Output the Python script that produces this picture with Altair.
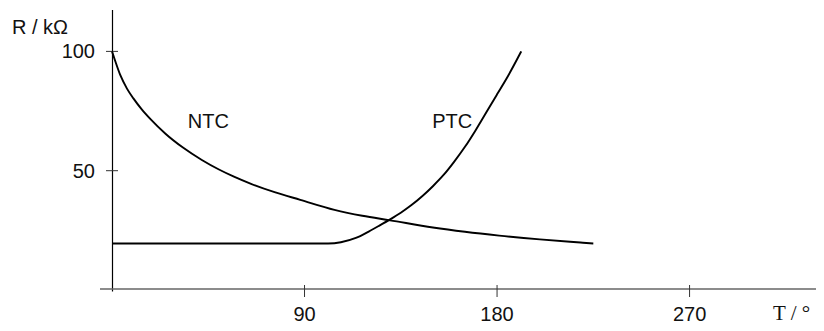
import altair as alt
import pandas as pd

# NTC curve (T in degrees, R in kOhm)
ntc_T = [0, 1.5, 4, 7, 10, 14, 18, 25, 33, 42, 50, 57, 65, 76, 88, 104, 117, 130, 150, 165, 181, 200, 219, 225]
ntc_R = [100, 96, 89.8, 84.4, 80.3, 75.6, 71.6, 65.5, 59.8, 54.5, 50.5, 47.5, 44.5, 41, 37.8, 33.6, 31.1, 29.2, 26.2, 24.4, 22.8, 21.2, 19.9, 19.5]

# PTC curve
ptc_T = [0, 50, 101, 107, 114, 120, 125, 130, 135, 140, 145, 150, 155, 160, 165, 170, 175, 180, 185, 191.3]
ptc_R = [19.5, 19.5, 19.5, 20.0, 21.8, 24.5, 27.0, 29.6, 32.4, 35.6, 39.3, 43.5, 48.2, 53.8, 60.0, 67.0, 74.5, 82.0, 89.5, 100]

y_ticks = [50, 100]
x_ticks = [90, 180, 270]

curve_labels = ["NTC", "PTC"]
label_T = [45, 159]
label_R = [70.6, 70.6]

W, H = 704, 280
x_scale = alt.Scale(domain=[0, 329.1], nice=False, zero=False)
y_scale = alt.Scale(domain=[0, 117.35], nice=False, zero=False)

curves_df = pd.concat([
    pd.DataFrame({"T": ntc_T, "R": ntc_R, "series": "NTC"}),
    pd.DataFrame({"T": ptc_T, "R": ptc_R, "series": "PTC"}),
])
yt_df = pd.DataFrame({"v": y_ticks, "lab": [str(v) for v in y_ticks]})
xt_df = pd.DataFrame({"v": x_ticks, "lab": [str(v) for v in x_ticks]})
lab_df = pd.DataFrame({"T": label_T, "R": label_R, "lab": curve_labels})

one = pd.DataFrame({"a": [0]})

curves = alt.Chart(curves_df).mark_line(
    color="black", strokeWidth=1.9, interpolate="monotone"
).encode(
    x=alt.X("T:Q", scale=x_scale, axis=None),
    y=alt.Y("R:Q", scale=y_scale, axis=None),
    detail="series:N",
)

y_axis_line = alt.Chart(one).mark_rule(color="black", strokeWidth=1.2).encode(
    x=alt.value(0.5), y=alt.value(0), y2=alt.value(281.5)
)
x_axis_line = alt.Chart(one).mark_rule(color="#666666", strokeWidth=1.6).encode(
    x=alt.value(-12), x2=alt.value(W), y=alt.value(279)
)

y_tick_marks = alt.Chart(yt_df).mark_rule(color="#333333", strokeWidth=1).encode(
    y=alt.Y("v:Q", scale=y_scale, axis=None), x=alt.value(-6), x2=alt.value(6)
)
y_tick_labels = alt.Chart(yt_df).mark_text(
    font="Liberation Sans", fontSize=20, align="right", baseline="middle", dy=1, color="#111111"
).encode(
    y=alt.Y("v:Q", scale=y_scale, axis=None), x=alt.value(-17), text="lab:N"
)

x_tick_marks = alt.Chart(xt_df).mark_rule(color="#333333", strokeWidth=1).encode(
    x=alt.X("v:Q", scale=x_scale, axis=None), y=alt.value(275), y2=alt.value(287)
)
x_tick_labels = alt.Chart(xt_df).mark_text(
    font="Liberation Sans", fontSize=20, align="center", baseline="alphabetic", color="#111111"
).encode(
    x=alt.X("v:Q", scale=x_scale, axis=None), y=alt.value(310.5), text="lab:N"
)

curve_text = alt.Chart(lab_df).mark_text(
    font="Liberation Sans", fontSize=20, align="center", baseline="middle", color="#111111"
).encode(
    x=alt.X("T:Q", scale=x_scale, axis=None),
    y=alt.Y("R:Q", scale=y_scale, axis=None),
    text="lab:N",
)

y_title = alt.Chart(one).mark_text(
    text="R / kΩ", font="Liberation Sans", fontSize=20, align="left", baseline="alphabetic", color="#111111"
).encode(x=alt.value(-100), y=alt.value(24.3))

x_title = alt.Chart(one).mark_text(
    text="T / °", font="Liberation Serif", fontSize=21, align="left", baseline="alphabetic", color="#111111"
).encode(x=alt.value(661), y=alt.value(309.5))

chart = alt.layer(
    y_axis_line, x_axis_line, y_tick_marks, y_tick_labels, x_tick_marks, x_tick_labels,
    curves, curve_text, y_title, x_title
).properties(
    width=W, height=H,
    padding={"left": 104, "top": 2, "right": 0, "bottom": 33},
    autosize=alt.AutoSizeParams(type="none"),
).configure_view(stroke=None)

chart.save("out.html", embed_options={"renderer": "svg", "actions": False})
